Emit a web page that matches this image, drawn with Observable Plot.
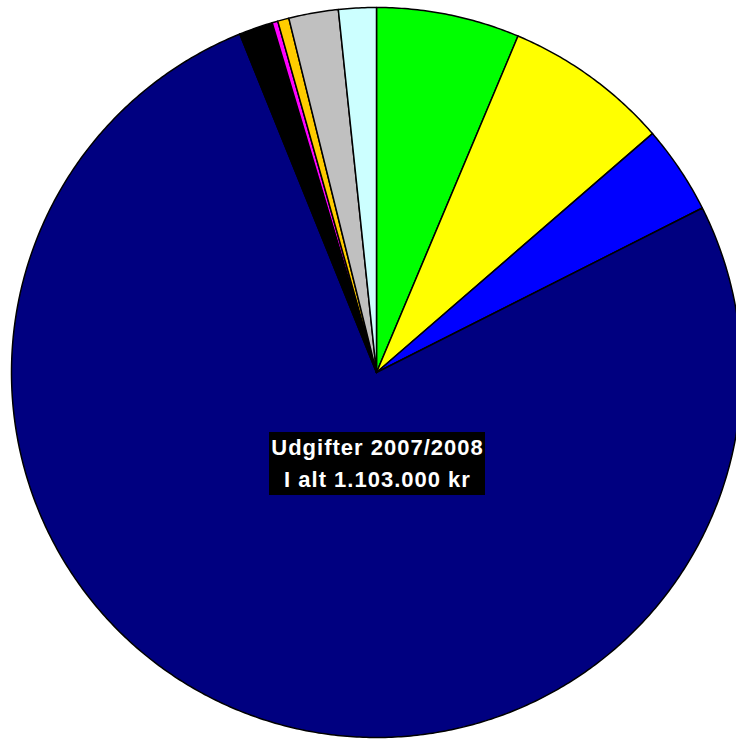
<!DOCTYPE html>
<html>
<head>
<meta charset="utf-8">
<script src="https://cdn.jsdelivr.net/npm/d3@7"></script>
<script src="https://cdn.jsdelivr.net/npm/@observablehq/plot@0.6"></script>
<style>
  html, body { margin: 0; padding: 0; background: #fff; overflow: hidden; }
  #wrap { position: relative; width: 736px; height: 739px; }
  #label {
    position: absolute; left: 269px; top: 432px; width: 216px; height: 63px;
    background: #000; color: #fff; font-family: "Liberation Sans", Arial, sans-serif;
    font-weight: bold; font-size: 22px; letter-spacing: 1px; text-align: center; line-height: 32px;
    box-sizing: border-box; padding-left: 1px; white-space: nowrap;
  }
</style>
</head>
<body>
<div id="wrap"></div>
<script>
// Slices clockwise from 12 o'clock
const categories = ["Post 1", "Post 2", "Post 3", "Post 4", "Post 5", "Post 6", "Post 7", "Post 8", "Post 9"];
const values = [69900, 80600, 43200, 842000, 16500, 2800, 5500, 24200, 18400];
const colors = ["#00FF00", "#FFFF00", "#0000FF", "#000080", "#000000", "#FF00FF", "#FFCC00", "#C0C0C0", "#CCFFFF"];
const titleLines = ["Udgifter 2007/2008", "I alt 1.103.000 kr"];

const total = d3.sum(values);
// Build slice outlines (unit circle) from the values
const pts = [];
let acc = 0;
values.forEach((v, i) => {
  const a0 = acc / total * 2 * Math.PI;
  acc += v;
  const a1 = acc / total * 2 * Math.PI;
  const n = Math.max(2, Math.ceil((a1 - a0) / (Math.PI / 360)));
  pts.push({key: categories[i], x: 0, y: 0});
  for (let k = 0; k <= n; k++) {
    const a = a0 + (a1 - a0) * k / n;
    pts.push({key: categories[i], x: Math.sin(a), y: Math.cos(a)});
  }
  pts.push({key: categories[i], x: 0, y: 0});
});

const chart = Plot.plot({
  width: 736,
  height: 739,
  margin: 0,
  x: {domain: [-1, 1], range: [11, 741], axis: null},
  y: {domain: [-1, 1], range: [737, 7], axis: null},
  color: {domain: categories, range: colors},
  style: {background: "white"},
  marks: [
    Plot.line(pts, {x: "x", y: "y", z: "key", fill: "key", stroke: "black", strokeWidth: 1.5, strokeLinejoin: "round", curve: "linear"})
  ]
});
const wrap = document.getElementById("wrap");
wrap.appendChild(chart);
const label = document.createElement("div");
label.id = "label";
label.innerHTML = titleLines.map(t => `<div>${t}</div>`).join("");
wrap.appendChild(label);
</script>
</body>
</html>
